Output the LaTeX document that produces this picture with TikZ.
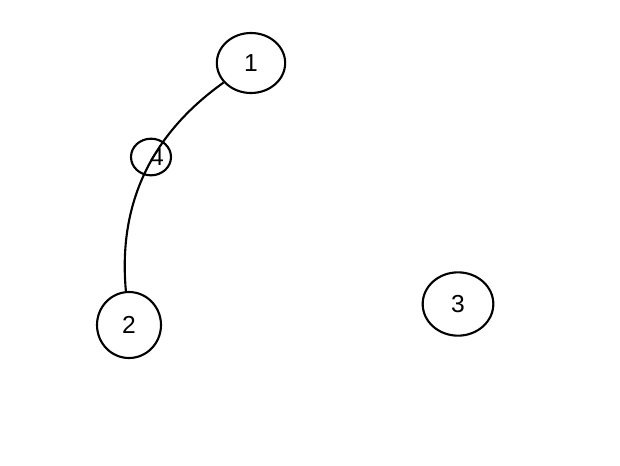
\documentclass[tikz,border=0pt]{standalone}
\usepackage{fontspec}
\setmainfont{Liberation Sans}
\usetikzlibrary{shapes.geometric}

\begin{document}
\begin{tikzpicture}[
                x=0.03cm, y=-0.03cm,
                every node/.style={ellipse, draw, line width=1.8pt, inner sep=0pt,
                                   font=\fontsize{21}{24}\selectfont},
                big/.style={minimum width=2.05cm, minimum height=1.9cm},
                small/.style={minimum width=1.2cm, minimum height=1.1cm}
            ]
            \useasboundingbox (0,0) rectangle (620,465);

            \node[big, minimum height=1.8cm] (n1) at (251,63) {1};
            \node[big, minimum width=1.92cm, minimum height=1.98cm] (n2) at (129,325) {2};
            \node[big, minimum width=2.12cm] (n3) at (458,304) {3};
            \node[small] (n4) at (151,157) {\hspace*{0.36cm}4};

            \coordinate (c1) at (150,135);
            \coordinate (c2) at (118,205);

            \draw[line width=1.8pt] (n1) .. controls (c1) and (c2) .. (n2);

        \end{tikzpicture}
\end{document}
